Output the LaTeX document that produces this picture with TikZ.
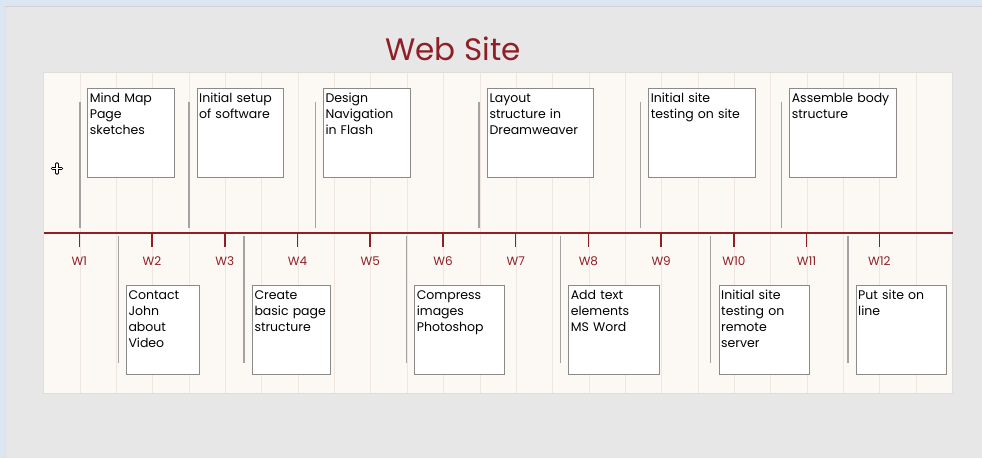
\documentclass[tikz,border=0pt]{standalone}
\usepackage{fontspec}
\setmainfont{Poppins}
\usetikzlibrary{positioning}
\definecolor{sitered}{HTML}{8F1F27}
\definecolor{pagegray}{HTML}{E7E7E7}
\definecolor{frameblue}{HTML}{DCE6F2}
\definecolor{paper}{HTML}{FCF8F3}
\definecolor{gridline}{HTML}{EFE6DF}
\definecolor{boxline}{HTML}{8A8A8A}
\definecolor{leadgray}{HTML}{A3A3A3}

\begin{document}
\begin{tikzpicture}[x=1pt, y=-1pt,
    task/.style={draw=boxline, line width=1pt, fill=white, anchor=north west, inner sep=2pt,
      align=left, font=\fontsize{12.5}{16}\selectfont, text height=11.5pt, text depth=73.5pt},
    week/.style={text=sitered, font=\fontsize{12}{14}\selectfont},
    leader/.style={draw=leadgray, line width=1.3pt}
]
\useasboundingbox (0,0) rectangle (982,458);

% window and page
\fill[pagegray] (0,0) rectangle (982,458);
\fill[frameblue] (0,0) rectangle (982,6);
\fill[frameblue] (0,0) rectangle (5,458);
\draw[black!18] (5,6.5) -- (982,6.5);
\draw[black!12] (5.5,6.5) -- (5.5,458);

\node[text=sitered, font=\fontsize{31}{36}\selectfont] (title) at (453,48.5) {Web Site};

% timeline panel with half-week grid
\fill[paper] (43.6,72) rectangle (952.6,393.3);
\foreach \j in {1,...,24}
  \draw[gridline, line width=0.8pt] ({43.6+36.36*\j},72.5) -- ({43.6+36.36*\j},393);
\draw[black!13, line width=1pt] (43.6,72) rectangle (952.6,393.3);

% move handle
\draw[line width=3.4pt, line cap=round] (52.5,168.5) -- (61.5,168.5) (57,164) -- (57,173);
\draw[white, line width=1.3pt, line cap=round] (52.5,168.5) -- (61.5,168.5) (57,164) -- (57,173);

\coordinate (tl-start) at (43.6,233.3);
\coordinate (tl-end) at (952.6,233.3);
\draw[sitered, line width=2pt] (tl-start) -- (tl-end);

\foreach \i in {1,...,12} {
  \coordinate (tick\i) at ({79.3+72.73*(\i-1)},233.3);
  \draw[sitered, line width=1.6pt] (tick\i) -- ++(0,14);
  \node[week] (w\i) at ({79.3+72.73*(\i-1)},261.5) {W\i};
}

% leaders
\foreach \x in {80,189,315.7,479,640.3,781.3}
  \draw[leader] (\x,101.7) -- (\x,228);
\foreach \x in {118.7,244,406.3,560.3,710.7,848}
  \draw[leader] (\x,235.5) -- (\x,363);

% tasks above the line
\node[task, text width=82.7pt] (t1) at (87.3,88.3) {Mind Map\\Page\\sketches};
\node[task, text width=82pt] (t2) at (196.7,88.3) {Initial setup\\of software};
\node[task, text width=83pt] (t3) at (323,88.3) {Design\\Navigation\\in Flash};
\node[task, text width=102.3pt] (t4) at (487,88.3) {Layout\\structure in\\Dreamweaver};
\node[task, text width=102.7pt] (t5) at (648.3,88.3) {Initial site\\testing on site};
\node[task, text width=103pt] (t6) at (789.3,88.3) {Assemble body\\structure};

% tasks below the line
\node[task, text width=69.3pt] (b1) at (126,285.3) {Contact\\John\\about\\Video};
\node[task, text width=73.7pt] (b2) at (252,285.3) {Create\\basic page\\structure};
\node[task, text width=85.7pt] (b3) at (414.3,285.3) {Compress\\images\\Photoshop};
\node[task, text width=86.7pt] (b4) at (568.3,285.3) {Add text\\elements\\MS Word};
\node[task, text width=86.3pt] (b5) at (718.7,285.3) {Initial site\\testing on\\remote\\server};
\node[task, text width=86pt] (b6) at (855.7,285.3) {Put site on\\line};
\end{tikzpicture}
\end{document}
